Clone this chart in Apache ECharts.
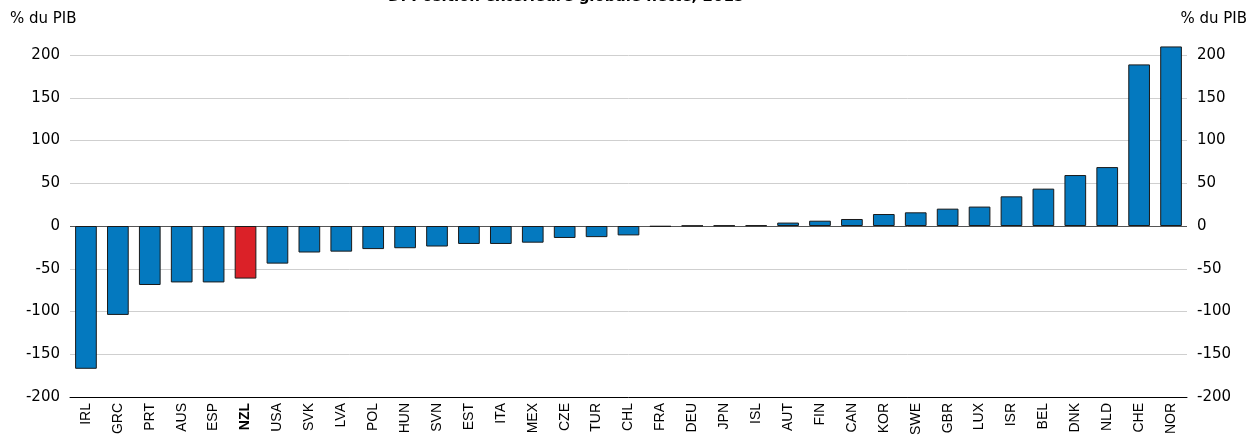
<!DOCTYPE html>
<html>
<head>
<meta charset="utf-8">
<script src="https://cdn.jsdelivr.net/npm/echarts@6/dist/echarts.min.js"></script>
<style>
    html, body { margin: 0; padding: 0; background: #fff; }
    #chart { width: 1250px; height: 438px; }
</style>
</head>
<body>
<div id="chart"></div>
<script>
    // pays, tries par position nette
    var countries = ['IRL', 'GRC', 'PRT', 'AUS', 'ESP', 'NZL', 'USA', 'SVK', 'LVA', 'POL', 'HUN', 'SVN',
        'EST', 'ITA', 'MEX', 'CZE', 'TUR', 'CHL', 'FRA', 'DEU', 'JPN', 'ISL', 'AUT', 'FIN', 'CAN', 'KOR',
        'SWE', 'GBR', 'LUX', 'ISR', 'BEL', 'DNK', 'NLD', 'CHE', 'NOR'];
    var values = [-167, -104, -69, -66, -66, -61.5, -44, -31, -30, -27, -26, -24,
        -21, -21, -19.5, -14, -13, -11, -0.8, 0.4, 0.6, 0.8, 4, 6.2, 8.2, 14,
        16, 20.3, 22.7, 34.7, 43.7, 59.6, 68.9, 189, 210];
    var highlight = 'NZL';
    var yTicks = [-200, -150, -100, -50, 0, 50, 100, 150, 200];

    var font = 'DejaVu Sans, sans-serif';
    var xFont = 'Liberation Sans, Arial, sans-serif';
    var blue = '#0479bf';
    var red = '#db2128';

    var chart = echarts.init(document.getElementById('chart'));

    var barData = countries.map(function (c, i) {
        return {
            value: values[i],
            itemStyle: { color: c === highlight ? red : blue }
        };
    });

    var yAxisBase = {
        type: 'value',
        min: yTicks[0],
        max: yTicks[yTicks.length - 1],
        interval: 50,
        axisLine: { show: false },
        axisTick: { show: false },
        axisLabel: { fontFamily: font, fontSize: 15, color: '#000', margin: 10 }
    };

    chart.setOption({
        animation: false,
        title: {
            text: 'D. Position extérieure globale nette, 2015',
            left: 383,
            top: -15,
            textStyle: { fontFamily: font, fontSize: 15, fontWeight: 'bold', color: '#000' }
        },
        graphic: [
            {
                type: 'text', left: 10, top: 12,
                style: { text: '% du PIB', font: '15px ' + font, fill: '#000' }
            },
            {
                type: 'text', right: 3, top: 12,
                style: { text: '% du PIB', font: '15px ' + font, fill: '#000' }
            }
        ],
        grid: { left: 70, right: 63, top: 55, bottom: 41, containLabel: false },
        xAxis: {
            type: 'category',
            data: countries,
            position: 'bottom',
            axisLine: { onZero: false, lineStyle: { color: '#000', width: 1 } },
            axisTick: { alignWithLabel: true, inside: true, length: 4, lineStyle: { color: '#000' } },
            axisLabel: {
                rotate: 90,
                interval: 0,
                margin: 6,
                fontFamily: xFont,
                fontSize: 14,
                color: '#000',
                formatter: function (v) { return v === highlight ? '{b|' + v + '}' : v; },
                rich: { b: { fontWeight: 'bold', fontFamily: xFont, fontSize: 14, color: '#000' } }
            }
        },
        yAxis: [
            Object.assign({}, yAxisBase, {
                position: 'left',
                splitLine: { show: true, lineStyle: { color: '#cfcfcf', width: 1 } }
            }),
            Object.assign({}, yAxisBase, {
                position: 'right',
                splitLine: { show: false }
            })
        ],
        series: [{
            type: 'bar',
            data: barData,
            barWidth: '68%',
            clip: false,
            itemStyle: { borderColor: '#1a1a1a', borderWidth: 1 },
            markLine: {
                silent: true,
                symbol: 'none',
                label: { show: false },
                lineStyle: { color: '#555555', width: 1, type: 'solid' },
                data: [{ yAxis: 0 }],
                z: 1
            }
        }]
    });
</script>
</body>
</html>
